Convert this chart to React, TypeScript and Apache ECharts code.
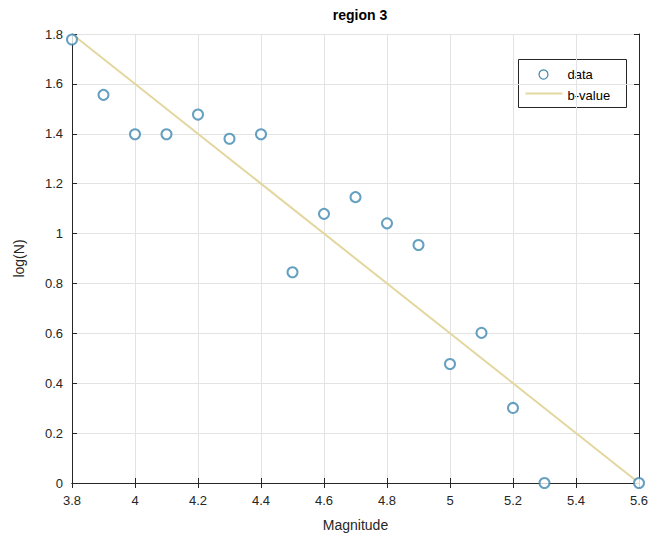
import React, { useEffect, useRef } from "react";
import * as echarts from "echarts";

const magnitudes = [3.8, 3.9, 4.0, 4.1, 4.2, 4.3, 4.4, 4.5, 4.6, 4.7, 4.8, 4.9, 5.0, 5.1, 5.2, 5.3, 5.6];
const logN = [1.778, 1.556, 1.398, 1.398, 1.477, 1.380, 1.398, 0.845, 1.079, 1.146, 1.041, 0.954, 0.477, 0.602, 0.301, 0, 0];
const fitX = [3.8, 5.6];
const fitY = [1.8, 0];
const titleText = "region 3";
const xName = "Magnitude";
const yName = "log(N)";
const legendNames = ["data", "b-value"];

const FONT = "Liberation Sans, Arial, Helvetica, sans-serif";
const AX = "#262626";
const DOT = "#3f88b0";
const FIT = "#e3d79f";
const fmt = (v: number) => String(+Number(v).toFixed(1));

export default function App() {
  const ref = useRef<HTMLDivElement>(null);
  useEffect(() => {
    if (!ref.current) return;
    const chart = echarts.init(ref.current, undefined, { renderer: "svg" });
    const baseX = { type: "value" as const, min: 3.8, max: 5.6, interval: 0.2 };
    const baseY = { type: "value" as const, min: 0, max: 1.8, interval: 0.2 };
    const tick = { show: true, inside: true, length: 5, lineStyle: { color: AX } };
    const line = { show: true, lineStyle: { color: AX, width: 1 } };
    chart.setOption({
      animation: false,
      backgroundColor: "#ffffff",
      textStyle: { fontFamily: FONT },
      title: {
        text: titleText,
        left: 355,
        textAlign: "center",
        top: 3,
        textStyle: { fontFamily: FONT, fontSize: 14, fontWeight: "bold", color: "#000" },
      },
      grid: { left: 72, right: 28, top: 34, bottom: 59, containLabel: false },
      xAxis: [
        {
          ...baseX,
          position: "bottom",
          name: xName,
          nameLocation: "middle",
          nameGap: 35,
          nameTextStyle: { fontFamily: FONT, fontSize: 14, color: AX },
          axisLine: line,
          axisTick: tick,
          axisLabel: { fontFamily: FONT, fontSize: 13, color: AX, margin: 11, formatter: fmt },
          splitLine: { show: true, lineStyle: { color: "#e3e3e3", width: 1 } },
        },
        {
          ...baseX,
          position: "top",
          axisLine: line,
          axisTick: tick,
          axisLabel: { show: false },
          splitLine: { show: false },
        },
      ],
      yAxis: [
        {
          ...baseY,
          position: "left",
          name: yName,
          nameLocation: "middle",
          nameGap: 46,
          nameTextStyle: { fontFamily: FONT, fontSize: 14, color: AX },
          axisLine: line,
          axisTick: tick,
          axisLabel: { fontFamily: FONT, fontSize: 13, color: AX, margin: 9, formatter: fmt },
          splitLine: { show: true, lineStyle: { color: "#e3e3e3", width: 1 } },
        },
        {
          ...baseY,
          position: "right",
          axisLine: line,
          axisTick: tick,
          axisLabel: { show: false },
          splitLine: { show: false },
        },
      ],
      graphic: [
        {
          type: "group",
          left: 518,
          top: 59,
          z: 100,
          children: [
            { type: "rect", shape: { x: 0, y: 0, width: 108, height: 48 }, style: { fill: "#fff", stroke: AX, lineWidth: 1 } },
            { type: "circle", shape: { cx: 25, cy: 15, r: 4.5 }, style: { fill: "none", stroke: DOT, lineWidth: 1.2 } },
            { type: "line", shape: { x1: 7, y1: 34, x2: 44, y2: 34 }, style: { stroke: FIT, lineWidth: 2 } },
            { type: "text", x: 49, y: 15, style: { text: legendNames[0], fontFamily: FONT, fontSize: 13, fill: "#000", verticalAlign: "middle" } },
            { type: "text", x: 49, y: 36, style: { text: legendNames[1], fontFamily: FONT, fontSize: 13, fill: "#000", verticalAlign: "middle" } },
          ],
        },
      ],
      series: [
        {
          name: legendNames[1],
          type: "line",
          showSymbol: false,
          symbol: "none",
          clip: false,
          lineStyle: { color: FIT, width: 2 },
          itemStyle: { color: FIT },
          data: fitX.map((x, i) => [x, fitY[i]]),
          z: 2,
        },
        {
          name: legendNames[0],
          type: "scatter",
          symbol: "emptyCircle",
          symbolSize: 10,
          clip: false,
          itemStyle: { color: DOT, borderWidth: 1.2 },
          data: magnitudes.map((m, i) => [m, logN[i]]),
          z: 3,
        },
      ],
    });
    return () => chart.dispose();
  }, []);
  return <div ref={ref} style={{ position: "fixed", left: 0, top: 0, width: 667, height: 542 }} />;
}
